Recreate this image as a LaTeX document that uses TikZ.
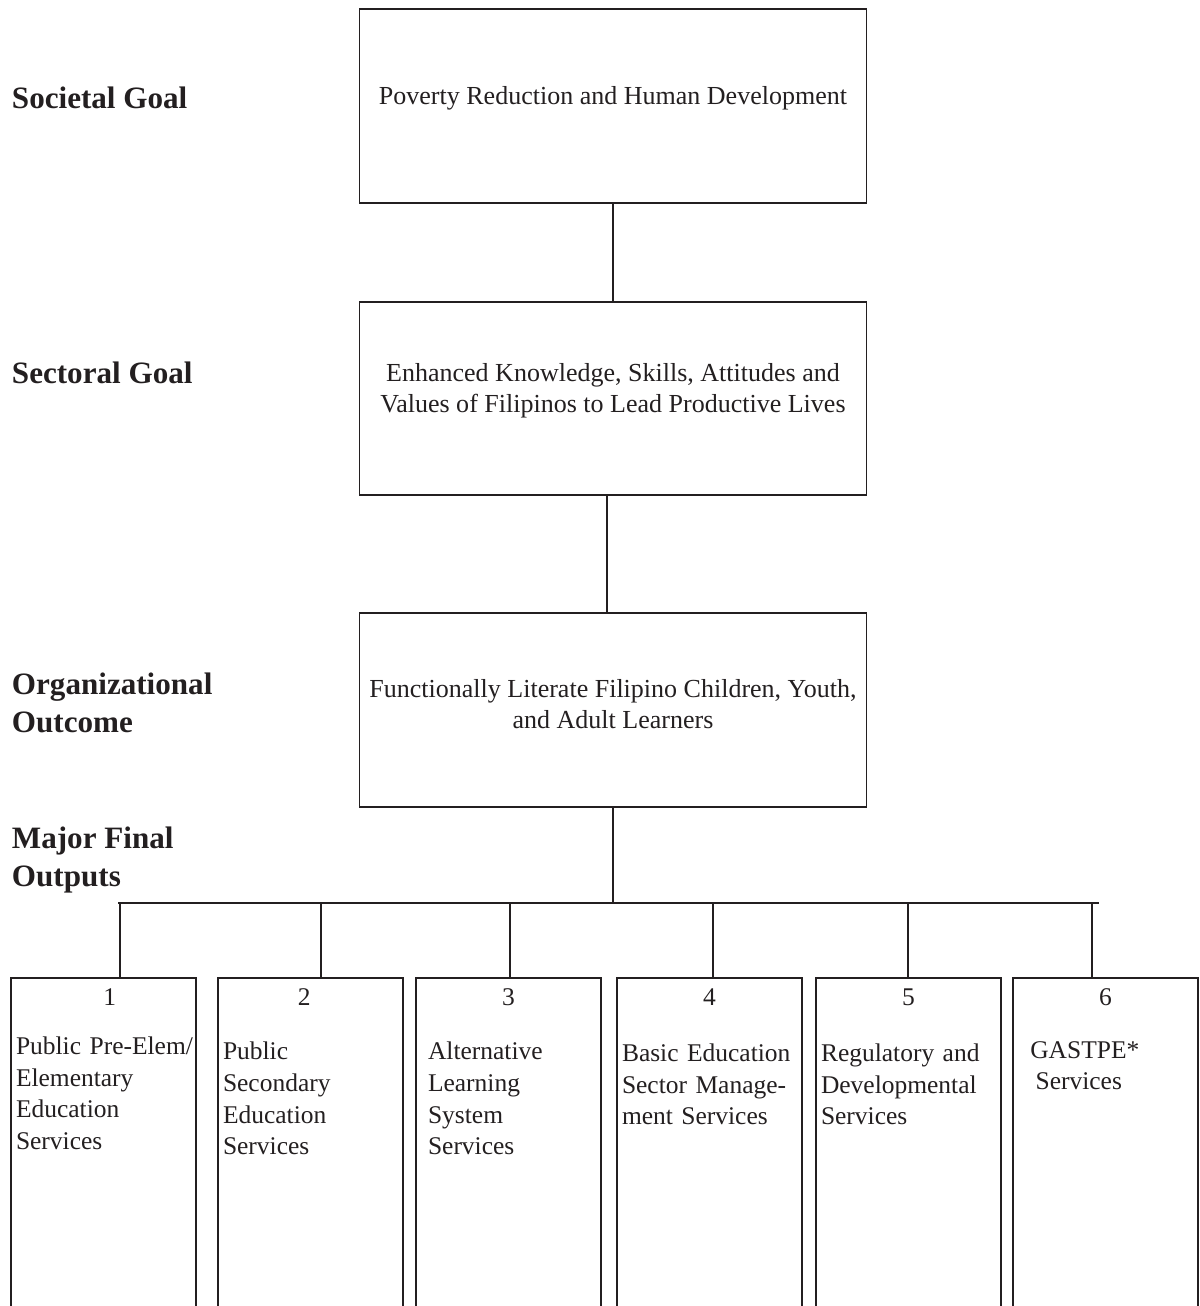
\documentclass[tikz,border=0pt]{standalone}
\usepackage{fontspec}
\setmainfont{Liberation Serif}
\definecolor{ink}{HTML}{231F20}

\begin{document}
\begin{tikzpicture}[line width=1.1pt,color=ink,
  level/.style={inner sep=0pt,align=left,font=\fontsize{17.7}{21.8}\selectfont\bfseries},
  goal/.style={draw,minimum width=10.14cm,minimum height=3.87cm,align=center,
    font=\fontsize{14.8}{18}\selectfont},
  mfo/.style={draw,anchor=north,text width=3.5cm,inner xsep=0.1cm,inner ysep=0.21cm,
    text depth=6.5cm,align=left,font=\fontsize{14.5}{18}\selectfont}]
\clip (0,0) rectangle (23.98,-26.12);

\path % the levels on the left
  node[level,anchor=base west] (lsoc) at (0.22,-2.16) {Societal Goal}
  node[level,anchor=base west] (lsec) at (0.22,-7.66) {Sectoral Goal}
  node[level,anchor=west] (lorg) at (0.22,-14.06) {Organizational\\Outcome}
  node[level,anchor=west] (lmfo) at (0.22,-17.2) {Major Final\\Outputs};

\path % the goal boxes, text moved off the middle a little
  node[goal,text height=9pt,text depth=10.2pt] (soc) at (12.26,-2.12)
    {Poverty Reduction and Human Development}
  node[goal,text height=22pt,text depth=5.6pt] (sec) at (12.26,-7.97)
    {Enhanced Knowledge, Skills, Attitudes and\\
    Values of Filipinos to Lead Productive Lives}
  node[goal,text height=28pt,text depth=6.4pt] (org) at (12.26,-14.2)
    {Functionally Literate Filipino Children, Youth,\\
    and Adult Learners};

% the bus and where the outputs hang from it
\coordinate (busL) at (2.36,-18.06);
\coordinate (busR) at (21.98,-18.06);
\coordinate (d1) at (2.40,-18.06);
\coordinate (d2) at (6.42,-18.06);
\coordinate (d3) at (10.20,-18.06);
\coordinate (d4) at (14.26,-18.06);
\coordinate (d5) at (18.16,-18.06);
\coordinate (d6) at (21.84,-18.06);

\path % the major final outputs
  node[mfo] (mfo1) at (2.07,-19.54) {\makebox[\linewidth]{\hspace*{7pt}1}\\[10pt]
    \mbox{Public Pre-Elem/}\\Elementary\\Education\\Services}
  node[mfo] (mfo2) at (6.21,-19.54) {\makebox[\linewidth]{2\hspace*{7pt}}\\[13pt]
    Public\\Secondary\\Education\\Services}
  node[mfo] (mfo3) at (10.17,-19.54) {\makebox[\linewidth]{3}\\[13pt]
    \hspace*{4pt}Alternative\\\hspace*{4pt}Learning\\\hspace*{4pt}System\\\hspace*{4pt}Services}
  node[mfo] (mfo4) at (14.19,-19.54) {\makebox[\linewidth]{4}\\[14pt]
    Basic Education\\Sector Manage-\\ment Services}
  node[mfo] (mfo5) at (18.17,-19.54) {\makebox[\linewidth]{5}\\[14pt]
    Regulatory and\\Developmental\\Services}
  node[mfo] (mfo6) at (22.11,-19.54) {\makebox[\linewidth]{\raisebox{-4pt}{6}}\\[16pt]
    \hspace*{7pt}GASTPE*\\\hspace*{10pt}Services};

\draw (soc) -- (sec) ;
\draw ([xshift=-1.2mm]sec.south) -- ([xshift=-1.2mm]org.north) ;
\draw (org.south) -- (org.south |- busL) ;
\draw (busL) -- (busR) ;
\draw (d1) -- (d1 |- mfo1.north) ;
\draw (d2) -- (d2 |- mfo2.north) ;
\draw (d3) -- (d3 |- mfo3.north) ;
\draw (d4) -- (d4 |- mfo4.north) ;
\draw (d5) -- (d5 |- mfo5.north) ;
\draw (d6) -- (d6 |- mfo6.north) ;

\end{tikzpicture}
\end{document}
